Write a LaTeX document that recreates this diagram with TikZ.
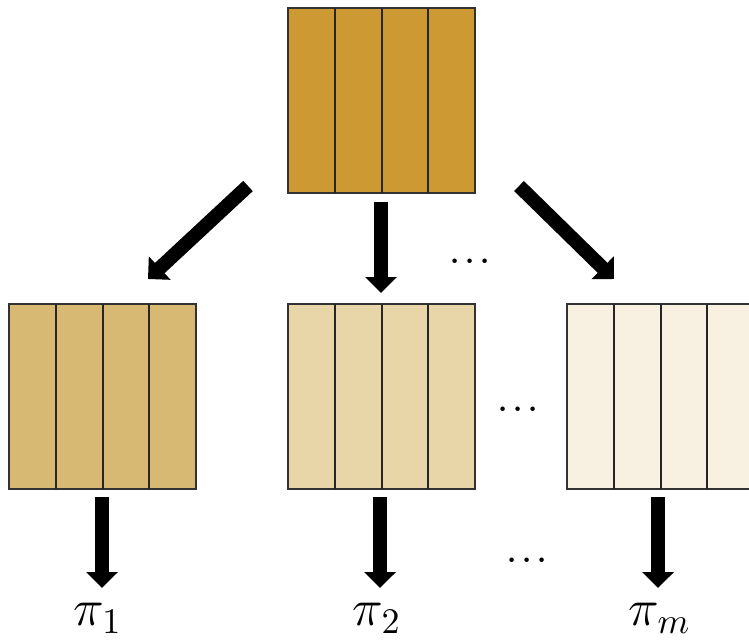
\documentclass[tikz,border=0pt]{standalone}
\usetikzlibrary{arrows.meta,calc}
\definecolor{cTop}{RGB}{204,153,51}
\definecolor{cOne}{RGB}{215,185,116}
\definecolor{cTwo}{RGB}{232,214,168}
\definecolor{cThree}{RGB}{248,241,226}
\definecolor{edge}{RGB}{50,50,50}
\tikzset{
  block/.style={draw=edge, line width=1.5pt, minimum width=187pt, minimum height=185pt, inner sep=0pt, outer sep=0pt, anchor=north west},
  divider/.style={draw=black!85, line width=2pt},
  fatarrow/.style={line width=14pt, -{Triangle[width=31pt,length=16pt]}},
  lbl/.style={font=\Large, scale=3.6, inner sep=0pt},
  dots/.style={font=\Large\boldmath, scale=2, inner sep=0pt}
}
\newcommand{\quadsplit}[1]{%
  \foreach \k in {1,2,3}{\draw[divider] ($(#1.north west)!\k/4!(#1.north east)$) -- ($(#1.south west)!\k/4!(#1.south east)$);}%
}
\begin{document}
\begin{tikzpicture}[x=1pt,y=-1pt]
\useasboundingbox (0,0) rectangle (749,641);
\node[block, fill=cTop] (top) at (288,8) {};
\node[block, fill=cOne] (b1) at (9,304) {};
\node[block, fill=cTwo] (b2) at (288,304) {};
\node[block, fill=cThree] (b3) at (567,304) {};
\foreach \n in {top,b1,b2,b3}{\quadsplit{\n}}
% arrows from top
\coordinate (s1) at (248,186);
\coordinate (e1) at (148,279);
\coordinate (s2) at (381,202);
\coordinate (e2) at (381,293);
\coordinate (s3) at (519,186);
\coordinate (e3) at (614,279);
\draw[fatarrow] (s1) -- (e1);
\draw[fatarrow] (s2) -- (e2);
\draw[fatarrow] (s3) -- (e3);
% output arrows
\coordinate (o1) at (102,497);
\coordinate (p1) at (102,588);
\coordinate (o2) at (380,497);
\coordinate (p2) at (380,588);
\coordinate (o3) at (658,497);
\coordinate (p3) at (658,588);
\draw[fatarrow] (o1) -- (p1);
\draw[fatarrow] (o2) -- (p2);
\draw[fatarrow] (o3) -- (p3);
\node[lbl] (l1) at (98,618) {$\pi_1$};
\node[lbl] (l2) at (377,618) {$\pi_2$};
\node[lbl] (l3) at (660,618) {$\pi_m$};
\node[dots] (d1) at (470,262) {$\cdots$};
\node[dots] (d2) at (518,410) {$\cdots$};
\node[dots] (d3) at (527,561) {$\cdots$};
\end{tikzpicture}
\end{document}
